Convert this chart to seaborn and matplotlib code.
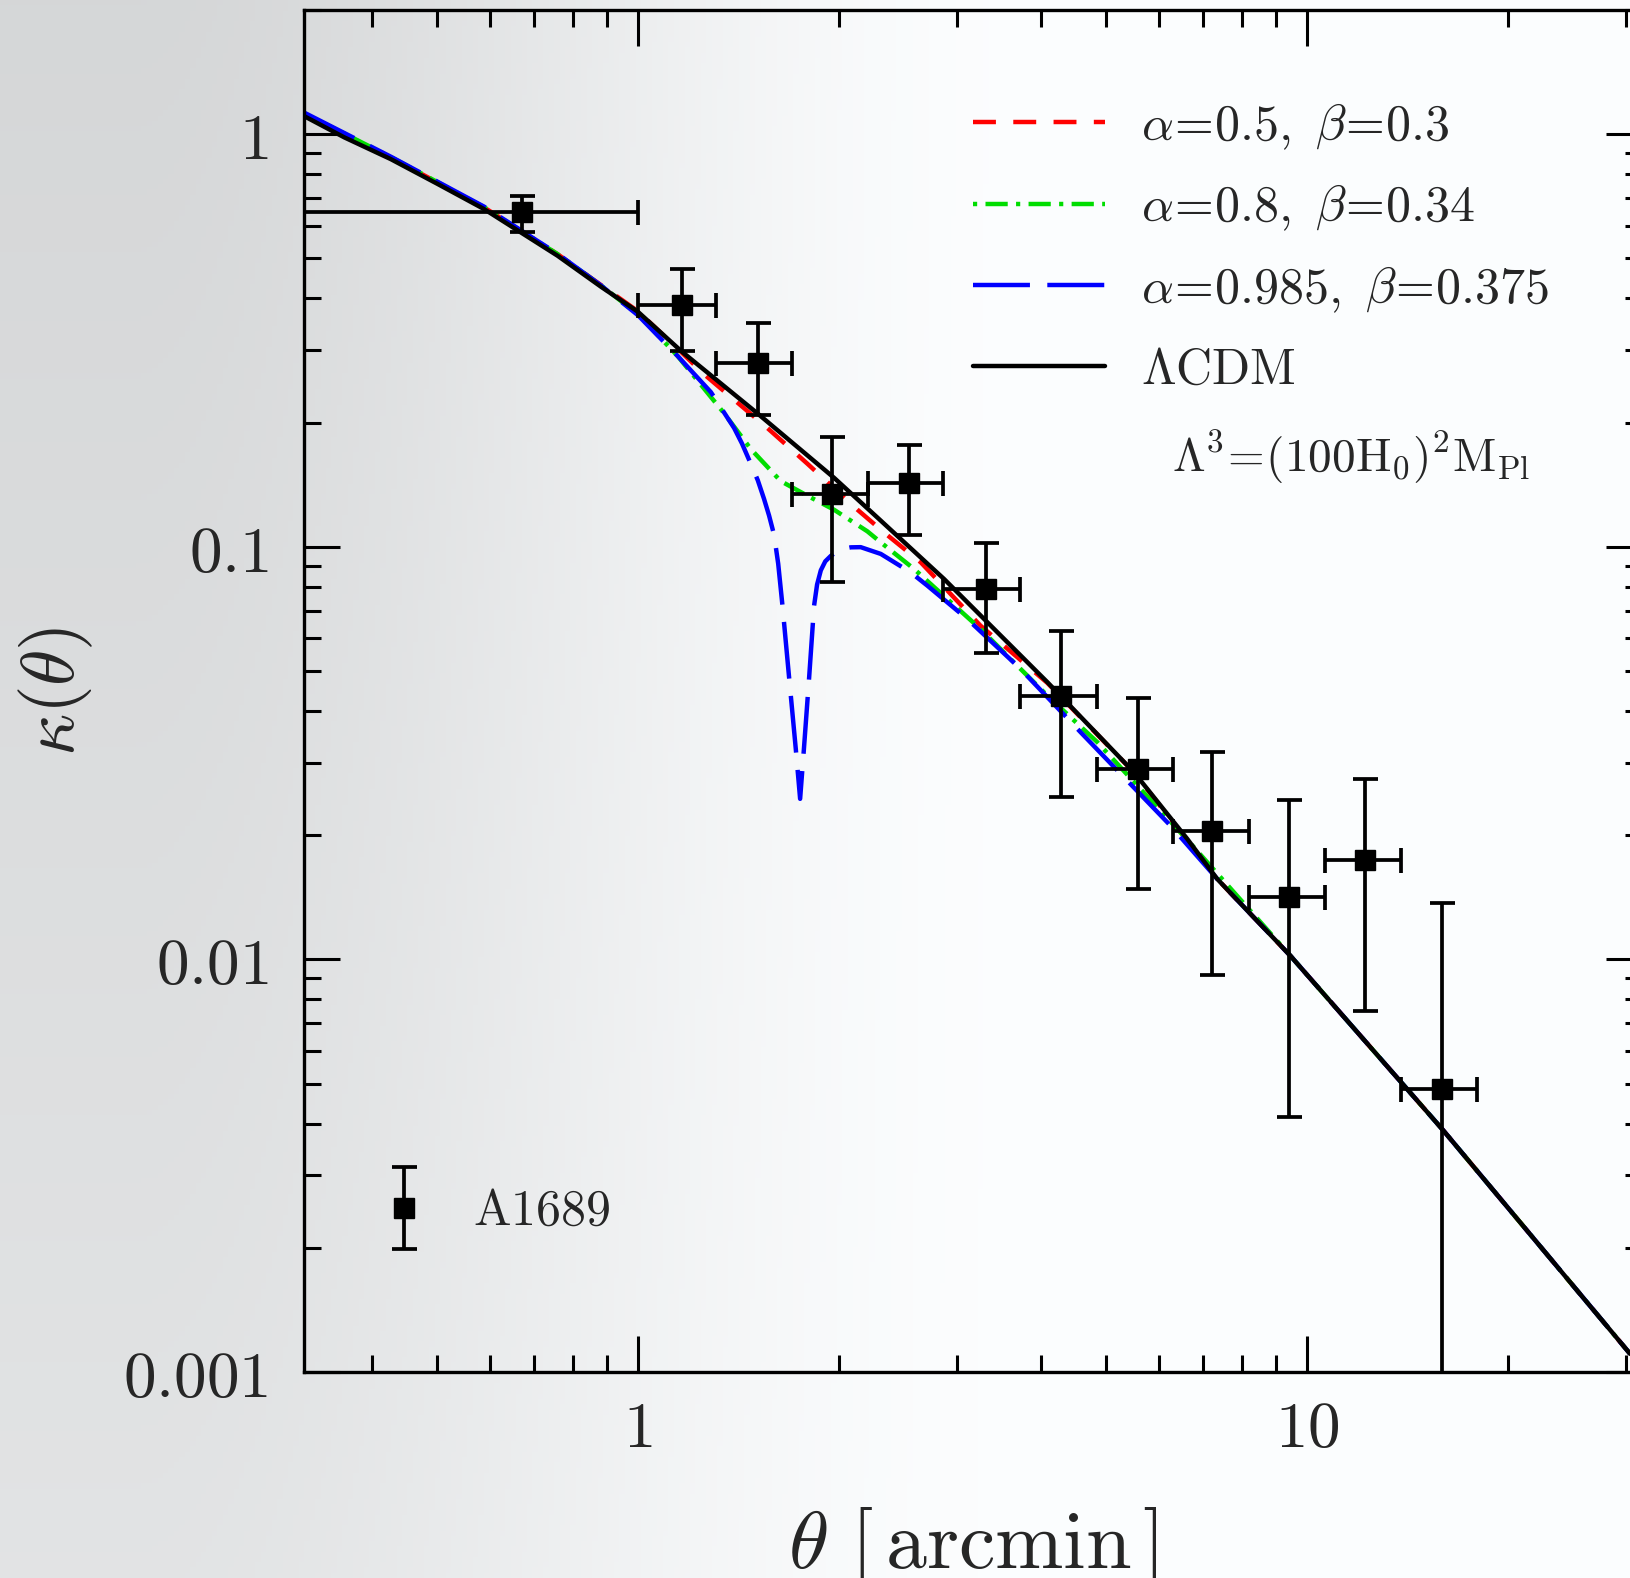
import numpy as np
import pandas as pd
import matplotlib
matplotlib.use("Agg")
import matplotlib.pyplot as plt
import seaborn as sns
from matplotlib.legend_handler import HandlerErrorbar
from matplotlib.container import ErrorbarContainer
from matplotlib.ticker import FixedLocator, FixedFormatter, NullFormatter

# ---------------- data ----------------
theta_pts = [0.67, 1.162, 1.509, 1.95, 2.54, 3.31, 4.29, 5.58, 7.22, 9.41, 12.2, 15.9]
theta_lo = [0.3162, 1.0, 1.31, 1.70, 2.21, 2.86, 3.72, 4.86, 6.31, 8.19, 10.63, 13.8]
theta_hi = [1.0, 1.31, 1.70, 2.21, 2.86, 3.72, 4.86, 6.31, 8.19, 10.63, 13.8, 17.95]
kappa_pts = [0.647, 0.386, 0.279, 0.1344, 0.1425, 0.0788, 0.0434, 0.0290, 0.0205, 0.0142, 0.01745, 0.00485]
kappa_lo = [0.58, 0.299, 0.209, 0.082, 0.107, 0.0553, 0.0247, 0.0148, 0.00915, 0.00415, 0.00752, 0.0005]
kappa_hi = [0.71, 0.471, 0.348, 0.185, 0.1766, 0.1023, 0.0625, 0.0429, 0.0319, 0.0243, 0.0273, 0.0137]

lcdm_x = [0.3162, 0.364, 0.427, 0.502, 0.589, 0.758, 0.880, 1.0, 1.159, 1.508, 1.963,
          2.306, 2.866, 4.09, 5.51, 6.62, 7.34, 9.44, 15.92, 30.4]
lcdm_y = [1.108, 0.982, 0.870, 0.757, 0.658, 0.5075, 0.427, 0.371, 0.2985, 0.2106, 0.147,
          0.1157, 0.0836, 0.0470, 0.02843, 0.0196, 0.01567, 0.01021, 0.00388, 0.001107]

red_x = [0.3162, 0.427, 0.589, 0.758, 0.880, 1.0, 1.159, 1.255, 1.561, 1.791, 2.128, 2.331,
         2.646, 3.25, 4.09, 5.51, 7.34, 9.44, 15.92, 30.4]
red_y = [1.12, 0.878, 0.664, 0.512, 0.431, 0.372, 0.297, 0.262, 0.194, 0.159, 0.123, 0.1084,
         0.0917, 0.0644, 0.0468, 0.0284, 0.01567, 0.01021, 0.00388, 0.001107]

green_x = [0.3162, 0.427, 0.589, 0.758, 0.880, 1.0, 1.146, 1.345, 1.474, 1.634, 1.791, 1.963,
           2.202, 2.306, 2.585, 3.25, 4.09, 4.86, 6.62, 9.44, 15.92, 30.4]
green_y = [1.125, 0.880, 0.665, 0.512, 0.430, 0.366, 0.290, 0.2106, 0.1726, 0.1443, 0.133, 0.123,
           0.109, 0.1025, 0.0884, 0.0632, 0.0436, 0.0336, 0.0195, 0.01021, 0.00388, 0.001107]

blue_x = [0.3162, 0.427, 0.589, 0.758, 0.880, 1.0, 1.146, 1.285, 1.392, 1.43, 1.474, 1.51,
          1.543, 1.57, 1.597, 1.62, 1.644, 1.682, 1.721, 1.747, 1.770, 1.802, 1.833, 1.852,
          1.876, 1.905, 1.941, 1.98, 2.021, 2.08, 2.152, 2.306, 2.556, 2.707, 3.107, 3.73,
          4.59, 6.25, 7.34, 9.44, 15.92, 30.4]
blue_y = [1.13, 0.882, 0.667, 0.513, 0.430, 0.364, 0.290, 0.237, 0.194, 0.178, 0.159, 0.145,
          0.1306, 0.119, 0.107, 0.091, 0.072, 0.0482, 0.0324, 0.0245, 0.0324, 0.0482, 0.072, 0.081,
          0.0877, 0.0922, 0.095, 0.0973, 0.0988, 0.0997, 0.0998, 0.0961, 0.0867, 0.0805, 0.0668, 0.0506,
          0.0355, 0.0211, 0.01567, 0.01021, 0.00388, 0.001107]

series_labels = [r"$\alpha\!=\!0.5,\ \beta\!=\!0.3$",
                 r"$\alpha\!=\!0.8,\ \beta\!=\!0.34$",
                 r"$\alpha\!=\!0.985,\ \beta\!=\!0.375$",
                 r"$\Lambda\mathrm{CDM}$"]
data_label = r"$\mathrm{A1689}$"
note_text = r"$\Lambda^3\!=\!(100\mathrm{H}_0)^2\mathrm{M}_{\mathrm{Pl}}$"

x_major = [1, 10]
x_major_labels = [r"$1$", r"$10$"]
x_minor = [0.4, 0.5, 0.6, 0.7, 0.8, 0.9, 2, 3, 4, 5, 6, 7, 8, 9, 20, 30]
y_major = [0.001, 0.01, 0.1, 1]
y_major_labels = [r"$0.001$", r"$0.01$", r"$0.1$", r"$1$"]
y_minor = [m * d for d in (0.001, 0.01, 0.1, 1) for m in range(2, 10)]

# ---------------- style ----------------
sns.set_style("ticks")
plt.rcParams.update({
    "mathtext.fontset": "cm",
    "font.family": ["DejaVu Serif"],
    "lines.scale_dashes": False,
    "axes.linewidth": 2.4,
})

fig = plt.figure(figsize=(16.3, 15.78), dpi=100)

# background texture-like gradient
bg = fig.add_axes([0, 0, 1, 1], zorder=-10)
W, H = 300, 300
xs = np.linspace(0, 1, W)[None, :]
ys = np.linspace(0, 1, H)[:, None]
s = np.clip((xs - 0.08) / 0.55, 0, 1)
s = s * s * (3 - 2 * s)
v = 0.845 + 0.15 * s + 0.05 * ys * (1 - s)
v = np.clip(v, 0, 0.995)
img = np.dstack([v - 0.008, v - 0.002, v + 0.002])
img = np.clip(img, 0, 1)
bg.imshow(img, aspect="auto", extent=[0, 1, 0, 1], origin="upper")
bg.axis("off")

ax = fig.add_axes([0.1862, 0.1305, 0.8209, 0.8632])
ax.set_facecolor("none")
ax.set_xscale("log")
ax.set_yscale("log")

lw = 3.2
sns.lineplot(x=red_x, y=red_y, ax=ax, color="#ff0000", linewidth=lw,
             linestyle=(0, (16.5, 12.5)), zorder=2.2)
h_red = ax.get_lines()[-1]
sns.lineplot(x=green_x, y=green_y, ax=ax, color="#00dd00", linewidth=lw,
             linestyle=(0, (3, 6, 16, 6)), zorder=2.3)
h_green = ax.get_lines()[-1]
sns.lineplot(x=blue_x, y=blue_y, ax=ax, color="#0000ff", linewidth=lw,
             linestyle=(0, (41, 12.5)), zorder=2.4)
h_blue = ax.get_lines()[-1]
sns.lineplot(x=lcdm_x, y=lcdm_y, ax=ax, color="black", linewidth=lw, zorder=2.6)
h_black = ax.get_lines()[-1]

tp = np.array(theta_pts)
kp = np.array(kappa_pts)
xerr = [tp - np.array(theta_lo), np.array(theta_hi) - tp]
yerr = [kp - np.array(kappa_lo), np.array(kappa_hi) - kp]
ax.errorbar(tp, kp, xerr=xerr, yerr=yerr, fmt="s", color="black", ms=14.5,
            elinewidth=2.7, capsize=9, capthick=2.7, zorder=5)

ax.set_xlim(10 ** -0.5, 10 ** 1.5)
ax.set_ylim(0.001, 2.0)

ax.xaxis.set_major_locator(FixedLocator(x_major))
ax.xaxis.set_major_formatter(FixedFormatter(x_major_labels))
ax.xaxis.set_minor_locator(FixedLocator(x_minor))
ax.xaxis.set_minor_formatter(NullFormatter())
ax.yaxis.set_major_locator(FixedLocator(y_major))
ax.yaxis.set_major_formatter(FixedFormatter(y_major_labels))
ax.yaxis.set_minor_locator(FixedLocator(y_minor))
ax.yaxis.set_minor_formatter(NullFormatter())

ax.tick_params(which="both", direction="in", top=True, right=True, width=2.2, color="black")
ax.tick_params(which="major", length=26)
ax.tick_params(which="minor", length=12)
ax.tick_params(axis="y", which="major", labelsize=47, pad=25)
ax.tick_params(axis="x", which="major", labelsize=47, pad=18)
for sp in ax.spines.values():
    sp.set_linewidth(2.4)
    sp.set_color("black")

ax.set_xlabel(r"$\theta\ [\,\mathrm{arcmin}\,]$", fontsize=59)
ax.xaxis.set_label_coords(0.5, -0.0977)
ax.set_ylabel(r"$\kappa(\theta)$", fontsize=53)
ax.yaxis.set_label_coords(-0.156, 0.5)

leg = ax.legend([h_red, h_green, h_blue, h_black], series_labels, loc="upper left",
                bbox_to_anchor=(0.5, 0.933), frameon=False, fontsize=36,
                handlelength=2.64, handletextpad=0.72, labelspacing=0.62,
                borderpad=0, borderaxespad=0)
ax.add_artist(leg)

ax.text(0.649, 0.672, note_text, transform=ax.transAxes, fontsize=34,
        ha="left", va="center")

eh = ax.errorbar([np.nan], [np.nan], yerr=[[1.0], [1.0]], fmt="s", color="black", ms=14.5,
                 elinewidth=2.7, capsize=9, capthick=2.7)
leg2 = ax.legend([eh], [data_label], loc="center left", bbox_to_anchor=(0.0639, 0.118),
                 frameon=False, fontsize=36, handlelength=0.6, handletextpad=1.08,
                 borderpad=0, borderaxespad=0,
                 handler_map={ErrorbarContainer: HandlerErrorbar(yerr_size=0.82, numpoints=1)})

fig.savefig("out.png", dpi=100)
